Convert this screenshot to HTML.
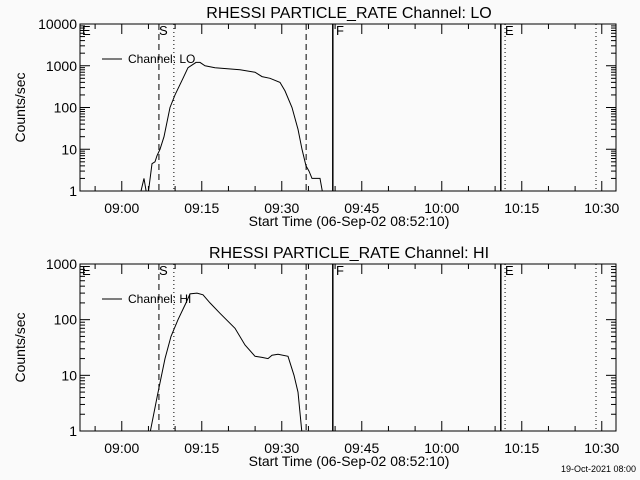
<!DOCTYPE html>
<html><head><meta charset="utf-8"><style>
body{margin:0;background:#fafafa;}
svg{display:block;font-family:"Liberation Sans",sans-serif;}
</style></head><body>
<svg id="c" width="640" height="480" viewBox="0 0 640 480"></svg>
<script>
// time in minutes since 08:52:10
const loTimes=[11.44,12.0,12.4,12.75,13.5,14.06,14.44,15.0,15.75,16.88,17.81,19.31,20.25,21.75,22.5,23.44,25.31,30.0,32.81,34.13,35.63,37.5,38.44,39.75,40.88,41.63,42.38,42.94,43.5,45.0,45.56];
const loValues=[1,2,1,0.8,4.5,5,7,10,20,100,200,500,900,1200,1200,1000,900,800,700,550,500,400,250,100,30,10,4,3,2,2,0.8];
const hiTimes=[13.1,14.44,14.81,15.94,17.06,18.38,19.88,20.63,21.94,23.06,24.38,26.25,29.06,30.94,32.81,34.13,35.25,36.0,37.13,39.0,40.13,40.88,41.63];
const hiValues=[0.9,4,6,20,50,100,200,290,300,280,200,130,70,35,22,21,20,23,24,22,10,5,0.9];
const tickLabels=['09:00','09:15','09:30','09:45','10:00','10:15','10:30'];
const tickMinutes=[7.833,22.833,37.833,52.833,67.833,82.833,97.833];
const dashedLines=[14.8,42.4];
const dottedLines=[17.6,79.7,96.75];
const solidLines=[47.4,78.9];
const loTicks=['1','10','100','1000','10000'];
const hiTicks=['1','10','100','1000'];

const svg=document.getElementById('c');
const NS='http://www.w3.org/2000/svg';
function el(t,a,p){const e=document.createElementNS(NS,t);for(const k in a)e.setAttribute(k,a[k]);(p||svg).appendChild(e);return e;}
const X0=80,X1=616,TMAX=100.5;
const xs=t=>X0+(X1-X0)*t/TMAX;

function panel(idx,top,bottom,decades,times,vals,ticks,title,chan){
  const g=el('g',{});
  
  
  const ys=v=>bottom-(bottom-top)*Math.log10(v)/decades;
  const cid='clip'+idx;
  const cp=el('clipPath',{id:cid},g);el('rect',{x:X0,y:top,width:X1-X0,height:bottom-top},cp);
  const t=el('text',{x:349,y:top-6,'font-size':16,'text-anchor':'middle',fill:'#000'},g);t.textContent=title;
  
  el('rect',{x:X0,y:top,width:X1-X0,height:bottom-top,fill:'none',stroke:'#000','stroke-width':1},g);
  for(let d=0;d<=decades;d++){
    const y=ys(Math.pow(10,d));
    el('line',{x1:X0,x2:X0+10,y1:y,y2:y,stroke:'#000'},g);
    el('line',{x1:X1,x2:X1-10,y1:y,y2:y,stroke:'#000'},g);
    const lt=el('text',{x:X0-3,y:y+5,'font-size':14,'text-anchor':'end'},g);lt.textContent=ticks[d];
    
    if(d<decades)for(let m=2;m<10;m++){const yy=ys(m*Math.pow(10,d));
      el('line',{x1:X0,x2:X0+5,y1:yy,y2:yy,stroke:'#000'},g);el('line',{x1:X1,x2:X1-5,y1:yy,y2:yy,stroke:'#000'},g);}
  }
  for(let m=-5;m<=TMAX;m+=5){const tm=7.833+m;if(tm<0||tm>TMAX)continue;const x=xs(tm);
    const big=(Math.round(m)%15===0);
    el('line',{x1:x,x2:x,y1:bottom,y2:bottom-(big?10:5),stroke:'#000'},g);
    el('line',{x1:x,x2:x,y1:top,y2:top+(big?10:5),stroke:'#000'},g);}
  tickLabels.forEach((s,i)=>{const tl=el('text',{x:xs(tickMinutes[i]),y:bottom+22,'font-size':14,'text-anchor':'middle'},g);tl.textContent=s;
    });
  const xt=el('text',{x:349,y:bottom+35,'font-size':14,'text-anchor':'middle'},g);xt.textContent='Start Time (06-Sep-02 08:52:10)';
  
  const yt=el('text',{transform:`translate(25,${(top+bottom)/2}) rotate(-90)`,'font-size':14,'text-anchor':'middle'},g);yt.textContent='Counts/sec';
  
  dashedLines.forEach(t=>el('line',{x1:xs(t),x2:xs(t),y1:top,y2:bottom,stroke:'#000','stroke-dasharray':'6,4'},g));
  dottedLines.forEach(t=>el('line',{x1:xs(t),x2:xs(t),y1:top,y2:bottom,stroke:'#000','stroke-dasharray':'1,3'},g));
  solidLines.forEach(t=>el('line',{x1:xs(t),x2:xs(t),y1:top,y2:bottom,stroke:'#000','stroke-width':1.5},g));
  [['E',82],['S',159],['F',336],['E',505]].forEach(([s,x])=>{const m=el('text',{x:x,y:top+11,'font-size':13},g);m.textContent=s;});
  el('line',{x1:102,x2:122,y1:top+35,y2:top+35,stroke:'#000'},g);
  const lg=el('text',{x:128,y:top+39,'font-size':12},g);lg.textContent='Channel: '+chan;
  
  const pts=times.map((t,i)=>xs(t).toFixed(1)+','+ys(vals[i]).toFixed(1)).join(' ');
  const pl=el('polyline',{points:pts,fill:'none',stroke:'#000','stroke-width':1,'clip-path':`url(#${cid})`},g);
  
  
}
panel(0,24,191,4,loTimes,loValues,loTicks,'RHESSI PARTICLE_RATE Channel: LO','LO');
panel(1,264,431,3,hiTimes,hiValues,hiTicks,'RHESSI PARTICLE_RATE Channel: HI','HI');
const ft=el('text',{x:636,y:472,'font-size':9,'text-anchor':'end'});ft.textContent='19-Oct-2021 08:00';

</script>
</body></html>
